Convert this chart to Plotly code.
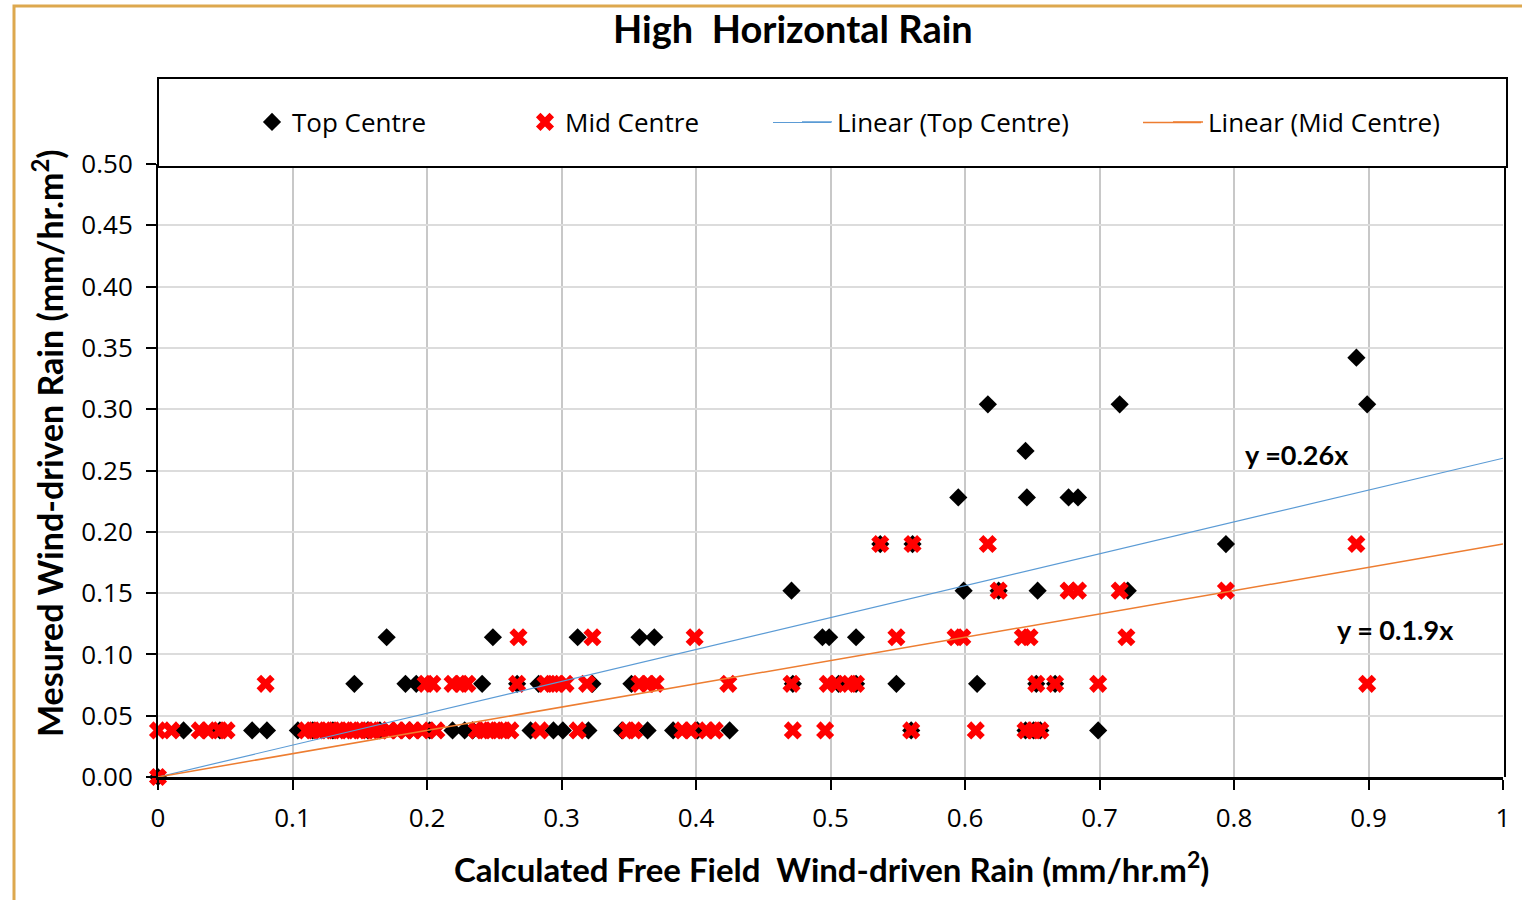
import plotly.graph_objects as go

# ---------------- data ----------------
top_x = [0.0,
         0.019, 0.046, 0.070, 0.081, 0.104, 0.115, 0.130, 0.156, 0.165, 0.187, 0.202, 0.219, 0.228, 0.234,
         0.277, 0.294, 0.301, 0.320, 0.345, 0.364, 0.383, 0.401, 0.425, 0.560, 0.645, 0.651, 0.656, 0.699,
         0.146, 0.184, 0.192, 0.241, 0.267, 0.283, 0.323, 0.352, 0.472, 0.506, 0.519, 0.549, 0.609, 0.653, 0.667,
         0.170, 0.249, 0.312, 0.358, 0.369, 0.494, 0.499, 0.519,
         0.471, 0.599, 0.625, 0.654, 0.721,
         0.537, 0.561, 0.794,
         0.595, 0.646, 0.677, 0.684,
         0.645,
         0.617, 0.715, 0.899,
         0.891]
top_y = [0.0,
         0.038, 0.038, 0.038, 0.038, 0.038, 0.038, 0.038, 0.038, 0.038, 0.038, 0.038, 0.038, 0.038, 0.038,
         0.038, 0.038, 0.038, 0.038, 0.038, 0.038, 0.038, 0.038, 0.038, 0.038, 0.038, 0.038, 0.038, 0.038,
         0.076, 0.076, 0.076, 0.076, 0.076, 0.076, 0.076, 0.076, 0.076, 0.076, 0.076, 0.076, 0.076, 0.076, 0.076,
         0.114, 0.114, 0.114, 0.114, 0.114, 0.114, 0.114, 0.114,
         0.152, 0.152, 0.152, 0.152, 0.152,
         0.190, 0.190, 0.190,
         0.228, 0.228, 0.228, 0.228,
         0.266,
         0.304, 0.304, 0.304,
         0.342]

mid_x = [0.0,
         0.0, 0.010, 0.031, 0.037, 0.046, 0.051, 0.110, 0.115, 0.120, 0.125, 0.130, 0.135, 0.140, 0.145,
         0.150, 0.155, 0.160, 0.165, 0.172, 0.178, 0.184, 0.190, 0.196, 0.207, 0.237, 0.242, 0.247, 0.252,
         0.257, 0.262, 0.284, 0.312, 0.349, 0.354, 0.390, 0.396, 0.408, 0.414, 0.472, 0.496, 0.560, 0.608,
         0.645, 0.651, 0.656,
         0.080, 0.199, 0.204, 0.219, 0.225, 0.230, 0.267, 0.288, 0.293, 0.297, 0.303, 0.319, 0.358, 0.364,
         0.370, 0.424, 0.471, 0.498, 0.504, 0.514, 0.519, 0.653, 0.667, 0.699, 0.899,
         0.268, 0.323, 0.399, 0.549, 0.593, 0.598, 0.643, 0.648, 0.720,
         0.625, 0.677, 0.684, 0.715, 0.794,
         0.537, 0.561, 0.617, 0.891]
mid_y = [0.0] + [0.038] * 45 + [0.076] * 25 + [0.114] * 9 + [0.152] * 5 + [0.190] * 4

top_slope = 0.26
mid_slope = 0.19
trend_x = [0.0, 1.0]

x_ticks = [0, 0.1, 0.2, 0.3, 0.4, 0.5, 0.6, 0.7, 0.8, 0.9, 1]
x_tick_text = ["0", "0.1", "0.2", "0.3", "0.4", "0.5", "0.6", "0.7", "0.8", "0.9", "1"]
y_ticks = [0, 0.05, 0.10, 0.15, 0.20, 0.25, 0.30, 0.35, 0.40, 0.45, 0.50]
y_tick_text = ["%.2f" % v for v in y_ticks]

title_text = "High  Horizontal Rain"
x_title = "Calculated Free Field  Wind-driven Rain (mm/hr.m<sup>2</sup>)"
y_title = "Mesured Wind-driven Rain (mm/hr.m<sup>2</sup>)"
eq_top = "y =0.26x"
eq_mid = "y = 0.1.9x"

top_line_color = "#5B9BD5"
mid_line_color = "#ED7D31"

# ---------------- figure ----------------
W, H = 1522, 900
L, R, T, B = 158, 1503, 164, 777


def px_x(p):
    return (p - L) / (R - L)


def px_y(p):
    return (B - p) / (B - T)


fig = go.Figure()
fig.add_trace(go.Scatter(x=top_x, y=top_y, mode="markers", name="Top Centre", legend="legend",
                         cliponaxis=False,
                         marker=dict(symbol="diamond", size=14, color="black")))
fig.add_trace(go.Scatter(x=mid_x, y=mid_y, mode="markers", name="Mid Centre", legend="legend2",
                         cliponaxis=False,
                         marker=dict(symbol="x", size=16, color="#FF0000", line=dict(width=0))))
fig.add_trace(go.Scatter(x=trend_x, y=[top_slope * v for v in trend_x], mode="lines",
                         name="Linear (Top Centre)", legend="legend3",
                         line=dict(color=top_line_color, width=1.2)))
fig.add_trace(go.Scatter(x=trend_x, y=[mid_slope * v for v in trend_x], mode="lines",
                         name="Linear (Mid Centre)", legend="legend4",
                         line=dict(color=mid_line_color, width=1.5)))

shapes = [
    # outer chart border (goldenrod)
    dict(type="rect", xref="paper", yref="paper", x0=px_x(14), x1=px_x(1530), y0=px_y(910), y1=px_y(6),
         line=dict(color="#DDA84E", width=3), fillcolor="rgba(0,0,0,0)", layer="below"),
    # legend box
    dict(type="rect", xref="paper", yref="paper", x0=px_x(158), x1=px_x(1507), y0=px_y(167), y1=px_y(78),
         line=dict(color="black", width=2), fillcolor="white", layer="above"),
    # right frame line
    dict(type="line", xref="paper", yref="paper", x0=px_x(1505), x1=px_x(1505), y0=px_y(777), y1=px_y(167),
         line=dict(color="black", width=2)),
    # longer legend line samples (as in the original legend)
    dict(type="line", xref="paper", yref="paper", x0=px_x(773), x1=px_x(831), y0=px_y(122.5), y1=px_y(122.5),
         line=dict(color=top_line_color, width=1.2), layer="above"),
    dict(type="line", xref="paper", yref="paper", x0=px_x(1143), x1=px_x(1201), y0=px_y(122.5), y1=px_y(122.5),
         line=dict(color=mid_line_color, width=1.5), layer="above"),
]


def leg(px_left):
    return dict(orientation="h", x=px_x(px_left), xanchor="left", y=px_y(122), yanchor="middle",
                bgcolor="rgba(0,0,0,0)", borderwidth=0,
                font=dict(family="Open Sans", size=26, color="black"))


fig.update_layout(
    width=W, height=H,
    margin=dict(l=L, r=W - R, t=T, b=H - B, pad=0),
    paper_bgcolor="white", plot_bgcolor="white",
    font=dict(family="Open Sans", color="black", size=24),
    title=dict(text="<b>" + title_text + "</b>", x=0.521, xanchor="center", y=1 - 30 / H, yanchor="middle",
               font=dict(family="Lato", size=38, color="black")),
    showlegend=True,
    legend=leg(252),
    legend2=leg(525),
    legend3=leg(797),
    legend4=leg(1168),
    shapes=shapes,
    annotations=[
        dict(text="<b>" + eq_top + "</b>", x=px_x(1297), y=px_y(454), xref="paper", yref="paper",
             xanchor="center", yanchor="middle",
             showarrow=False, font=dict(family="Lato", size=27, color="black")),
        dict(text="<b>" + eq_mid + "</b>", x=px_x(1395), y=px_y(629), xref="paper", yref="paper",
             xanchor="center", yanchor="middle",
             showarrow=False, font=dict(family="Lato", size=27, color="black")),
        dict(text="<b>" + x_title + "</b>", x=px_x(831), y=px_y(867), xref="paper", yref="paper",
             xanchor="center", yanchor="middle",
             showarrow=False, font=dict(family="Lato", size=33, color="black")),
        dict(text="<b>" + y_title + "</b>", x=px_x(48), y=px_y(443), xref="paper", yref="paper",
             xanchor="center", yanchor="middle",
             showarrow=False, textangle=-90, font=dict(family="Lato", size=34, color="black")),
    ],
)

fig.update_xaxes(range=[0, 1], tickvals=x_ticks, ticktext=x_tick_text, showgrid=True,
                 gridcolor="#C8C8C8", gridwidth=1.5, zeroline=False, showline=True, linecolor="black",
                 linewidth=2.5, ticks="outside", ticklen=10, tickwidth=2, tickcolor="black",
                 ticklabelstandoff=6,
                 tickfont=dict(family="Open Sans", size=26), automargin=False)
fig.update_yaxes(range=[0, 0.5], tickvals=y_ticks, ticktext=y_tick_text, showgrid=True,
                 gridcolor="#DCDCDC", gridwidth=2, zeroline=False, showline=True, linecolor="black",
                 linewidth=2, ticks="outside", ticklen=10, tickwidth=1.5, tickcolor="black",
                 ticklabelstandoff=8,
                 tickfont=dict(family="Open Sans", size=26), automargin=False)

fig.write_html("out.html")
